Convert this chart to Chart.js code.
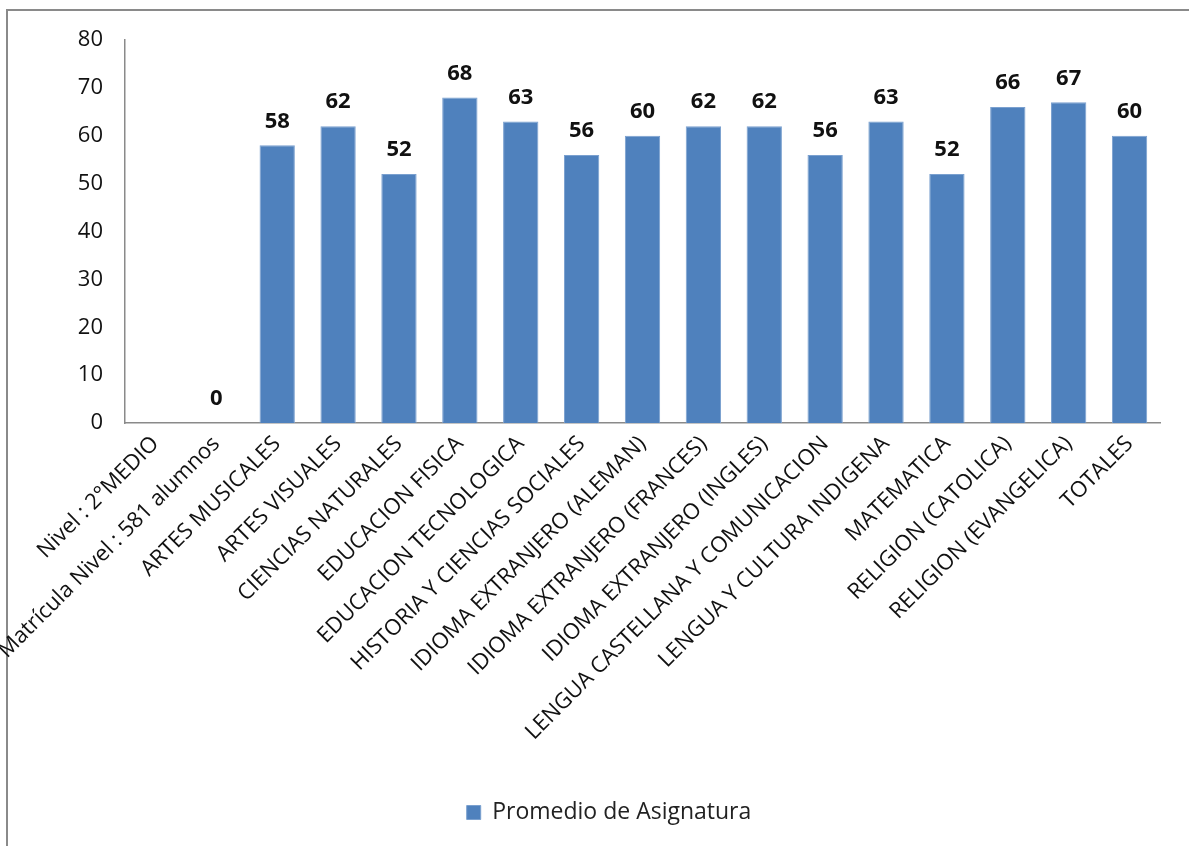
<!DOCTYPE html>
<html>
<head>
<meta charset="utf-8">
<script src="https://cdn.jsdelivr.net/npm/chart.js@4"></script>
<style>
  html, body { margin: 0; padding: 0; background: #fff; overflow: hidden; }
  #frame {
    position: absolute; left: 6px; top: 9px; width: 1300px; height: 900px;
    border: 2px solid #8a8a8a; box-sizing: border-box;
  }
  #wrap { position: absolute; left: 0; top: 0; width: 1189px; height: 846px; }
</style>
</head>
<body>
<div id="frame"></div>
<div id="wrap"><canvas id="promChart"></canvas></div>
<script>
// ─── DATA ──────────────────────────────────────────────────
const categories = [
  'Nivel : 2°MEDIO',
  'Matrícula Nivel : 581 alumnos',
  'ARTES MUSICALES',
  'ARTES VISUALES',
  'CIENCIAS NATURALES',
  'EDUCACION FISICA',
  'EDUCACION TECNOLOGICA',
  'HISTORIA Y CIENCIAS SOCIALES',
  'IDIOMA EXTRANJERO (ALEMAN)',
  'IDIOMA EXTRANJERO (FRANCES)',
  'IDIOMA EXTRANJERO (INGLES)',
  'LENGUA CASTELLANA Y COMUNICACION',
  'LENGUA Y CULTURA INDIGENA',
  'MATEMATICA',
  'RELIGION (CATOLICA)',
  'RELIGION (EVANGELICA)',
  'TOTALES',
];
const promedio = [null, 0, 58, 62, 52, 68, 63, 56, 60, 62, 62, 56, 63, 52, 66, 67, 60];
const yTicks   = [0, 10, 20, 30, 40, 50, 60, 70, 80];
const seriesName = 'Promedio de Asignatura';

const FONT = '"Open Sans", Lato, sans-serif';

// ─── VALUE LABELS ──────────────────────────────────────────
const valueLabels = {
  id: 'valueLabels',
  afterDatasetsDraw(chart) {
    const ctx  = chart.ctx;
    const meta = chart.getDatasetMeta(0);
    ctx.save();
    ctx.font = `bold 22px ${FONT}`;
    ctx.fillStyle = '#111';
    ctx.textAlign = 'center';
    ctx.textBaseline = 'bottom';
    meta.data.forEach((bar, i) => {
      const v = promedio[i];
      if (v == null) return;
      ctx.fillText(String(v), bar.x, bar.y - 13);
    });
    ctx.restore();
  },
};

// ─── CHART ─────────────────────────────────────────────────
new Chart(document.getElementById('promChart'), {
  type: 'bar',
  data: {
    labels: categories,
    datasets: [{
      label: seriesName,
      data: promedio,
      backgroundColor: '#4F81BD',
      borderColor: '#7aa0cf',
      borderWidth: 1,
      categoryPercentage: 1,
      barPercentage: 0.58,
    }],
  },
  options: {
    responsive: true,
    maintainAspectRatio: false,
    animation: false,
    layout: { padding: { top: 40, right: 29, left: 58, bottom: 12 } },
    plugins: {
      legend: {
        position: 'bottom',
        labels: {
          font: { family: FONT, size: 23 },
          color: '#222',
          boxWidth: 14,
          boxHeight: 14,
          padding: 10,
        },
      },
      tooltip: { enabled: false },
    },
    scales: {
      x: {
        grid: { display: false, drawTicks: false },
        border: { display: true, color: '#8a8a8a', width: 1.5 },
        ticks: {
          autoSkip: false,
          maxRotation: 45,
          minRotation: 45,
          padding: 8,
          font: { family: FONT, size: 22 },
          color: '#111',
        },
        afterFit: s => { s.height = 368; },
      },
      y: {
        min: 0,
        max: 80,
        afterBuildTicks: s => { s.ticks = yTicks.map(v => ({ value: v })); },
        grid: { display: false, drawTicks: false },
        border: { display: true, color: '#8a8a8a', width: 1.5 },
        ticks: {
          padding: 22,
          font: { family: FONT, size: 22 },
          color: '#111',
        },
        afterFit: s => { s.width = 67; },
      },
    },
  },
  plugins: [valueLabels],
});
</script>
</body>
</html>
